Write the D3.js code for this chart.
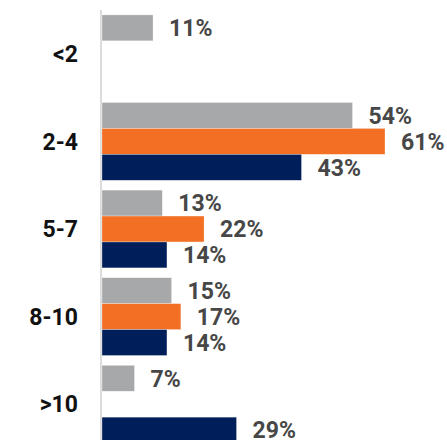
<!DOCTYPE html>
<html>
<head>
<meta charset="utf-8">
<script src="https://cdn.jsdelivr.net/npm/d3@7"></script>
<style>
  html, body { margin: 0; padding: 0; background: #fff; }
  svg { display: block; }
</style>
</head>
<body>
<svg id="chart" width="447" height="440"></svg>
<script>
const categories = ["<2", "2-4", "5-7", "8-10", ">10"];
const seriesNames = ["Series A", "Series B", "Series C"];
const seriesA = [11, 54, 13, 15, 7];
const seriesB = [null, 61, 22, 17, null];
const seriesC = [null, 43, 14, 14, 29];
const colors = ["#a7a8aa", "#f26f23", "#001e5a"];

const allSeries = [seriesA, seriesB, seriesC];
const svg = d3.select("#chart");

const x = d3.scaleLinear().domain([0, 61]).range([102, 385]);
const y = d3.scaleBand().domain(categories).range([10, 448]).paddingInner(0.112).paddingOuter(0.056);
const ySub = d3.scaleBand().domain(d3.range(seriesNames.length)).range([0, y.bandwidth()]);

// axis line
svg.append("line")
  .attr("x1", 101).attr("x2", 101)
  .attr("y1", 10).attr("y2", 448)
  .attr("stroke", "#dcdcdc").attr("stroke-width", 2);

const rows = [];
categories.forEach((c, i) => {
  allSeries.forEach((s, j) => {
    if (s[i] != null) rows.push({cat: c, si: j, v: s[i]});
  });
});

svg.append("g").selectAll("rect").data(rows).join("rect")
  .attr("x", x(0))
  .attr("y", d => y(d.cat) + ySub(d.si))
  .attr("width", d => x(d.v) - x(0))
  .attr("height", ySub.bandwidth())
  .attr("fill", d => colors[d.si])
  .attr("stroke", "#ffffff").attr("stroke-opacity", 0.5).attr("stroke-width", 0.6);

svg.append("g").selectAll("text").data(rows).join("text")
  .attr("x", d => x(d.v) + 16)
  .attr("y", d => y(d.cat) + ySub(d.si) + ySub.bandwidth() / 2)
  .attr("dy", "0.36em")
  .attr("font-family", "Roboto, sans-serif")
  .attr("font-weight", "bold")
  .attr("font-size", 23)
  .attr("fill", "#474747")
  .text(d => d.v + "%");

svg.append("g").selectAll("text").data(categories).join("text")
  .attr("x", 78)
  .attr("y", d => y(d) + y.bandwidth() / 2)
  .attr("dy", "0.36em")
  .attr("text-anchor", "end")
  .attr("font-family", "Roboto, sans-serif")
  .attr("font-weight", "bold")
  .attr("font-size", 23)
  .attr("fill", "#111")
  .text(d => d);
</script>
</body>
</html>
